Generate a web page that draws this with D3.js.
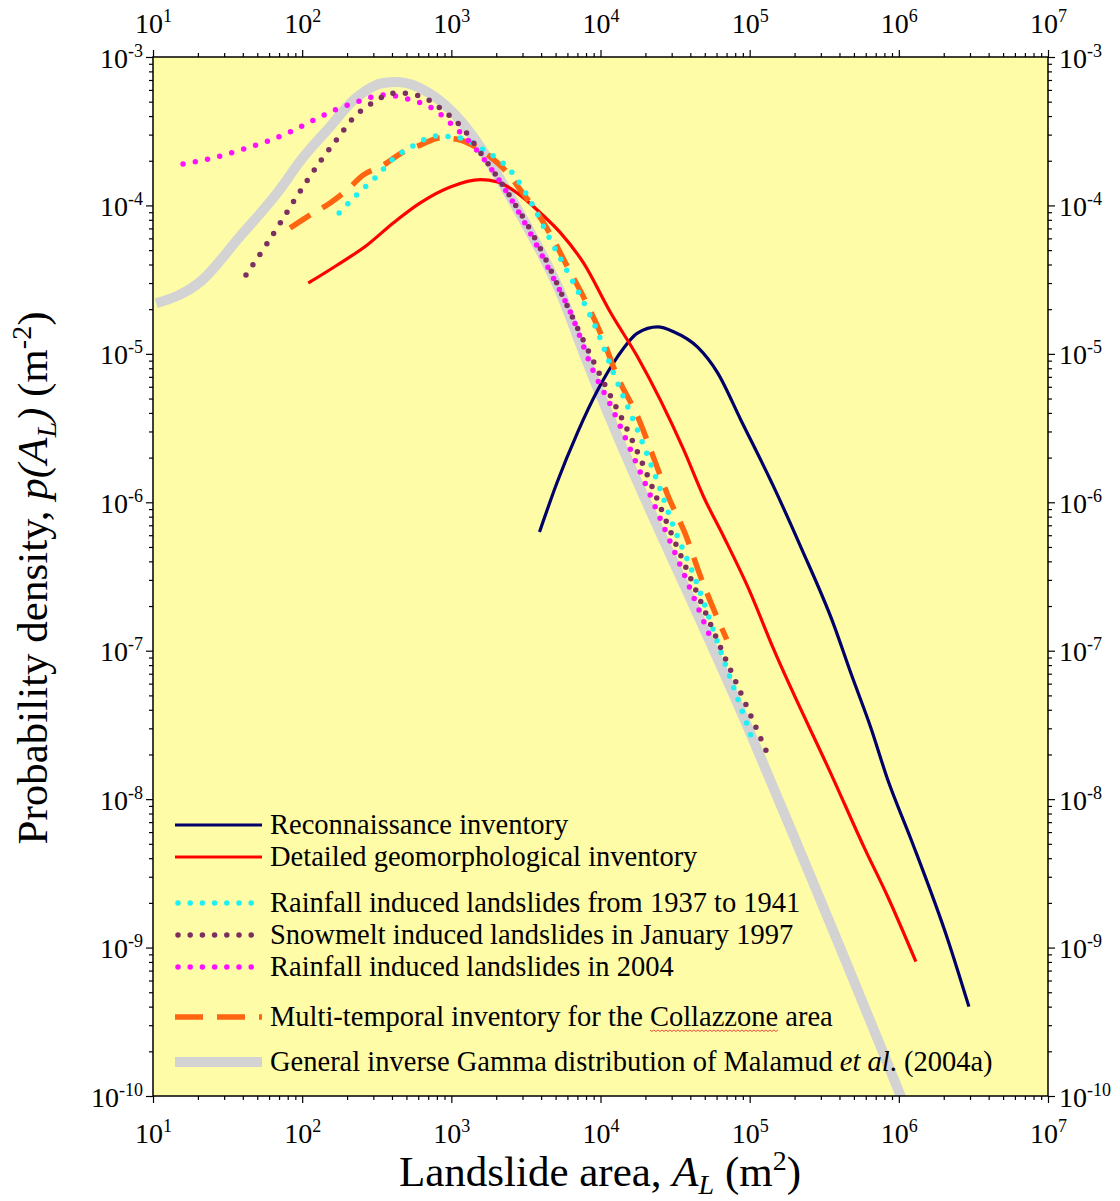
<!DOCTYPE html>
<html>
<head>
<meta charset="utf-8">
<script src="https://cdnjs.cloudflare.com/ajax/libs/d3/7.8.5/d3.min.js"></script>
<style>
  body { margin: 0; background: #fff; }
  text { font-family: "Liberation Serif", "Times New Roman", serif; fill: #000; }
</style>
</head>
<body>
<svg id="chart"></svg>
<script>
// Values (area in m^2, density in m^-2)
var reconArea = [3.9e3, 5.1e3, 7.0e3, 9.6e3, 1.30e4, 1.77e4, 2.42e4, 3.09e4, 4.48e4, 6.1e4, 8.71e4, 1.45e5, 2.2e5, 3.66e5, 4.76e5, 6.49e5, 8.43e5, 1.21e6, 2.13e6, 2.95e6];
var reconDensity = [6.3e-7, 1.35e-6, 2.94e-6, 5.73e-6, 9.55e-6, 1.38e-5, 1.52e-5, 1.41e-5, 1.11e-5, 7.45e-6, 3.6e-6, 1.27e-6, 5.01e-7, 1.5e-7, 7.1e-8, 3.03e-8, 1.35e-8, 5.33e-9, 1.13e-9, 4.0e-10];

var detailArea = [110, 172, 273, 408, 619, 984, 1567, 2037, 2773, 3954, 5395, 7691, 1.17e4, 1.77e4, 3.61e4, 4.91e4, 6.7e4, 9.7e4, 1.45e5, 3.66e5, 5.82e5, 8.43e5, 1.3e6];
var detailDensity = [3.0e-5, 3.97e-5, 5.42e-5, 7.62e-5, 1.04e-4, 1.33e-4, 1.49e-4, 1.44e-4, 1.21e-4, 8.9e-5, 6.53e-5, 4.1e-5, 1.89e-5, 9.55e-6, 2.26e-6, 1.09e-6, 5.86e-7, 2.7e-7, 1.02e-7, 1.35e-8, 4.79e-9, 2.2e-9, 8.05e-10];

var rain1937Area = [177, 234, 314, 408, 556, 792, 1148, 1641, 2564, 3499, 4613, 6592, 9247, 1.22e4, 1.8e4, 2.42e4, 3.09e4, 4.21e4, 6.59e4, 1.05e5];
var rain1937Density = [8.9e-5, 1.19e-4, 1.56e-4, 2.06e-4, 2.52e-4, 2.94e-4, 2.85e-4, 2.37e-4, 1.66e-4, 1.01e-4, 5.86e-5, 3.01e-5, 1.52e-5, 7.45e-6, 2.94e-6, 1.36e-6, 6.84e-7, 3.25e-7, 9.1e-8, 2.48e-8];

var snow1997Area = [42, 58, 72, 88, 110, 136, 172, 217, 295, 428, 619, 871, 1186, 1641, 2489, 3388, 4406, 5649, 9550, 1.66e4, 3.09e4, 4.55e4, 6.7e4, 9.25e4, 1.36e5];
var snow1997Density = [3.4e-5, 5.51e-5, 7.74e-5, 1.07e-4, 1.51e-4, 2.06e-4, 2.81e-4, 3.82e-4, 4.9e-4, 5.73e-4, 5.46e-4, 4.4e-4, 3.33e-4, 2.12e-4, 1.14e-4, 6.84e-5, 4.1e-5, 2.38e-5, 7.8e-6, 2.52e-6, 5.68e-7, 2.31e-7, 9.4e-8, 4.54e-8, 1.87e-8];

var rain2004Area = [15.9, 28.2, 40.8, 59.2, 85.7, 120, 172, 245, 350, 514, 757, 1016, 1343, 2377, 3388, 4613, 6295, 8974, 1.17e4, 1.64e4, 2.42e4, 3.55e4, 5.56e4];
var rain2004Density = [1.9e-4, 2.15e-4, 2.4e-4, 2.72e-4, 3.18e-4, 3.77e-4, 4.47e-4, 5.06e-4, 5.55e-4, 5.21e-4, 4.47e-4, 3.48e-4, 2.64e-4, 1.21e-4, 6.5e-5, 3.55e-5, 1.9e-5, 7.6e-6, 4.5e-6, 2.1e-6, 8.5e-7, 3.46e-7, 1.17e-7];

var multiArea = [83, 108, 154, 200, 256, 350, 476, 619, 843, 1148, 1449, 1828, 2377, 2904, 3776, 4842, 6012, 7691, 1.0e4, 1.3e4, 1.77e4, 2.27e4, 2.82e4, 3.72e4, 4.69e4, 7.02e4];
var multiDensity = [7.05e-5, 8.38e-5, 1.04e-4, 1.27e-4, 1.6e-4, 1.87e-4, 2.29e-4, 2.55e-4, 2.85e-4, 2.76e-4, 2.48e-4, 2.12e-4, 1.66e-4, 1.27e-4, 8.9e-5, 5.86e-5, 3.85e-5, 2.42e-5, 1.38e-5, 7.0e-6, 3.8e-6, 2.0e-6, 1.12e-6, 6.04e-7, 3.15e-7, 1.19e-7];

var gigArea = [10.5, 20.7, 38.4, 67.9, 102, 147, 234, 350, 435, 690, 984, 1406, 2133, 3236, 5395, 7691, 1.02e5, 1.03e6, 1.3e6];
var gigDensity = [2.19e-5, 3.05e-5, 6.2e-5, 1.21e-4, 2.12e-4, 3.22e-4, 5.38e-4, 6.68e-4, 6.79e-4, 5.81e-4, 4.4e-4, 2.89e-4, 1.49e-4, 7.16e-5, 2.58e-5, 1.02e-5, 2.72e-8, 1.0e-10, 5.6e-11];

var legendLabels = [
  "Reconnaissance inventory",
  "Detailed geomorphological inventory",
  "Rainfall induced landslides from 1937 to 1941",
  "Snowmelt induced landslides in January 1997",
  "Rainfall induced landslides in 2004",
  "Multi-temporal inventory for the Collazzone area",
  "General inverse Gamma distribution of Malamud "
];

var xDecades = [1e1, 1e2, 1e3, 1e4, 1e5, 1e6, 1e7];
var yDecades = [1e-3, 1e-4, 1e-5, 1e-6, 1e-7, 1e-8, 1e-9, 1e-10];

function zip(a, b) { return a.map(function (v, i) { return [v, b[i]]; }); }

// Series table, styles per line (drawing order: grey band first)
var series = [
  { data: zip(gigArea, gigDensity), color: "#d3d3d3", width: 10, dash: null, cap: "butt" },
  { data: zip(reconArea, reconDensity), color: "#000068", width: 3.2, dash: null, cap: "butt" },
  { data: zip(detailArea, detailDensity), color: "#ff0000", width: 3.2, dash: null, cap: "butt" },
  { data: zip(multiArea, multiDensity), color: "#ff6410", width: 5.5, dash: "24,14", cap: "butt" },
  { data: zip(rain1937Area, rain1937Density), color: "#1ff0f0", width: 5.5, dash: "0,12.5", cap: "round" },
  { data: zip(rain2004Area, rain2004Density), color: "#ff10ff", width: 5.5, dash: "0,12.5", cap: "round" },
  { data: zip(snow1997Area, snow1997Density), color: "#7b3060", width: 5.5, dash: "0,12.5", cap: "round" }
];
// legend order follows the figure
var legendOrder = [1, 2, 4, 6, 5, 3, 0];
var legendRowY = [825, 857, 903, 935, 967, 1017, 1062];

var W = 1120, H = 1201;
var pLeft = 153, pRight = 1048, pTop = 57, pBottom = 1096;

var svg = d3.select("#chart").attr("width", W).attr("height", H);

var x = d3.scaleLog().domain([1e1, 1e7]).range([pLeft, pRight]);
var y = d3.scaleLog().domain([1e-3, 1e-10]).range([pTop, pBottom]);

// Plot background
svg.append("rect")
  .attr("x", pLeft).attr("y", pTop)
  .attr("width", pRight - pLeft).attr("height", pBottom - pTop)
  .attr("fill", "#fffca8");

svg.append("clipPath").attr("id", "plotClip")
  .append("rect")
  .attr("x", pLeft).attr("y", pTop)
  .attr("width", pRight - pLeft).attr("height", pBottom - pTop);

// Minor tick values 2..9 per decade
var xMinor = [];
xDecades.slice(0, -1).forEach(function (d) { for (var k = 2; k <= 9; k++) xMinor.push(k * d); });
var yMinor = [];
yDecades.slice(1).forEach(function (d) { for (var k = 2; k <= 9; k++) yMinor.push(k * d); });

function powLabel(sel) {
  sel.each(function (d) {
    var t = d3.select(this);
    var e = Math.round(Math.log10(d));
    t.text(null);
    t.append("tspan").text("10");
    t.append("tspan").attr("font-size", 18).attr("dy", -11).text(e);
  });
}

function drawAxis(axisFn, scale, majors, minorVals, transform, labelFn) {
  var gMinor = svg.append("g").attr("transform", transform)
    .call(axisFn(scale).tickValues(minorVals).tickSize(4).tickSizeOuter(0).tickFormat(""));
  gMinor.select(".domain").remove();
  var g = svg.append("g").attr("transform", transform)
    .call(axisFn(scale).tickValues(majors).tickSize(7).tickSizeOuter(0).tickFormat(""));
  g.select(".domain").remove();
  g.selectAll(".tick line").attr("stroke-width", 1.2);
  gMinor.selectAll(".tick line").attr("stroke-width", 1.2);
  g.attr("font-size", 28).attr("font-family", null);
  labelFn(g.selectAll(".tick text"));
}

drawAxis(d3.axisBottom, x, xDecades, xMinor, "translate(0," + pBottom + ")", function (t) {
  t.attr("y", 47).attr("dy", null).attr("text-anchor", "middle").call(powLabel);
});
drawAxis(d3.axisTop, x, xDecades, xMinor, "translate(0," + pTop + ")", function (t) {
  t.attr("y", -24).attr("dy", null).attr("text-anchor", "middle").call(powLabel);
});
drawAxis(d3.axisLeft, y, yDecades, yMinor, "translate(" + pLeft + ",0)", function (t) {
  t.attr("x", -10).attr("dy", null).attr("y", 10).attr("text-anchor", "end").call(powLabel);
});
drawAxis(d3.axisRight, y, yDecades, yMinor, "translate(" + pRight + ",0)", function (t) {
  t.attr("x", 11).attr("dy", null).attr("y", 10).attr("text-anchor", "start").call(powLabel);
});

// Curves
var line = d3.line()
  .x(function (d) { return x(d[0]); })
  .y(function (d) { return y(d[1]); })
  .curve(d3.curveMonotoneX);

var plot = svg.append("g").attr("clip-path", "url(#plotClip)");
plot.selectAll("path.series")
  .data(series)
  .enter().append("path")
  .attr("class", "series")
  .attr("d", function (s) { return line(s.data); })
  .attr("fill", "none")
  .attr("stroke", function (s) { return s.color; })
  .attr("stroke-width", function (s) { return s.width; })
  .attr("stroke-dasharray", function (s) { return s.dash; })
  .attr("stroke-linecap", function (s) { return s.cap; })
  .attr("stroke-linejoin", "round");

// Frame
svg.append("rect")
  .attr("x", pLeft).attr("y", pTop)
  .attr("width", pRight - pLeft).attr("height", pBottom - pTop)
  .attr("fill", "none").attr("stroke", "#000").attr("stroke-width", 1.5);

// Legend
var legend = svg.append("g");
legendOrder.forEach(function (si, i) {
  var s = series[si];
  var ly = legendRowY[i];
  legend.append("line")
    .attr("x1", s.cap === "round" ? 178 : 175).attr("x2", 262)
    .attr("y1", ly).attr("y2", ly)
    .attr("stroke", s.color)
    .attr("stroke-width", s.width)
    .attr("stroke-dasharray", s.dash ? (s.cap === "round" ? "0,12.2" : "28,14") : null)
    .attr("stroke-linecap", s.cap);
  var t = legend.append("text")
    .attr("x", 270).attr("y", ly + 9)
    .attr("font-size", 28.5);
  if (i === 5) {
    t.append("tspan").text("Multi-temporal inventory for the ");
    t.append("tspan").attr("class", "colla").text("Collazzone");
    t.append("tspan").text(" area");
  } else if (i === 6) {
    t.append("tspan").text(legendLabels[i]);
    t.append("tspan").attr("font-style", "italic").text("et al");
    t.append("tspan").text(". (2004a)");
  } else {
    t.text(legendLabels[i]);
  }
});

// Spell-check style wavy underline under "Collazzone"
var colla = legend.select("tspan.colla").node();
if (colla) {
  var bb = colla.getBBox();
  var pts = [];
  for (var px = bb.x; px <= bb.x + bb.width; px += 2) {
    pts.push([px, bb.y + bb.height - 2 + ((Math.round((px - bb.x) / 2) % 2) ? 1.5 : 0)]);
  }
  legend.append("path").attr("d", d3.line()(pts))
    .attr("fill", "none").attr("stroke", "#e02020").attr("stroke-width", 0.8);
}

// Axis titles
var xt = svg.append("text")
  .attr("x", 600).attr("y", 1186)
  .attr("text-anchor", "middle")
  .attr("font-size", 43);
xt.append("tspan").text("Landslide area, ");
xt.append("tspan").attr("font-style", "italic").text("A");
xt.append("tspan").attr("font-style", "italic").attr("font-size", 28).attr("dy", 8).text("L");
xt.append("tspan").attr("dy", -8).text(" (m");
xt.append("tspan").attr("font-size", 28).attr("dy", -16).text("2");
xt.append("tspan").attr("dy", 16).text(")");

var yt = svg.append("text")
  .attr("transform", "translate(47,578) rotate(-90)")
  .attr("text-anchor", "middle")
  .attr("font-size", 43);
yt.append("tspan").text("Probability density, ");
yt.append("tspan").attr("font-style", "italic").text("p(A");
yt.append("tspan").attr("font-style", "italic").attr("font-size", 28).attr("dy", 9).text("L");
yt.append("tspan").attr("dy", -9).attr("font-style", "italic").text(")");
yt.append("tspan").text(" (m");
yt.append("tspan").attr("font-size", 28).attr("dy", -16).text("-2");
yt.append("tspan").attr("dy", 16).text(")");
</script>
</body>
</html>
